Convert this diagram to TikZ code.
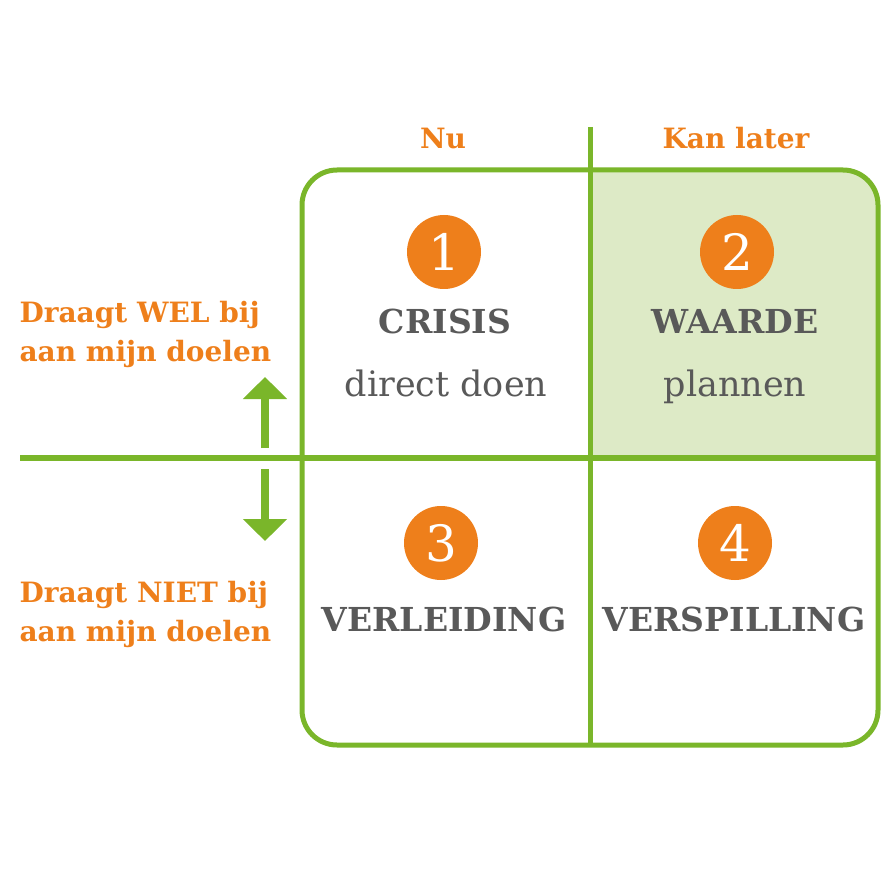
\documentclass[tikz,border=0pt]{standalone}
\usepackage{fontspec}
\setmainfont{DejaVu Serif}
\usetikzlibrary{arrows.meta}
\definecolor{oranje}{HTML}{EE7F1B}
\definecolor{groen}{HTML}{7AB62A}
\definecolor{lichtgroen}{HTML}{DDEAC6}
\definecolor{grijs}{HTML}{595959}
\begin{document}
\begin{tikzpicture}[x=1pt,y=-1pt,
    kop/.style={text=oranje,font=\bfseries\fontsize{28}{39}\selectfont},
    nummer/.style={circle,fill=oranje,text=white,minimum size=74pt,inner sep=0pt,font=\fontsize{50}{50}\selectfont},
    titel/.style={text=grijs,anchor=base,font=\bfseries\fontsize{33}{38}\selectfont},
    sub/.style={text=grijs,anchor=base,font=\fontsize{35}{40}\selectfont},
    lijn/.style={groen,line width=5pt},
    pijl/.style={groen,line width=8pt,-{Triangle[width=43pt,length=22pt]}}]
  \useasboundingbox (0,0) rectangle (888,882);
  % kwadrant 2 licht groen
  \begin{scope}
    \clip[rounded corners=35pt] (302,170) rectangle (878,745);
    \fill[lichtgroen] (590,170) rectangle (878,458);
  \end{scope}
  \draw[lijn,rounded corners=35pt] (302,170) rectangle (878,745);
  \draw[lijn] (590,127) -- (590,745);
  \draw[lijn,line width=6pt] (20,458) -- (878,458);
  % koppen
  \node[kop] (nu) at (443,138) {Nu};
  \node[kop] (later) at (736,138) {Kan later};
  \node[kop,align=left,anchor=west] (wel) at (16,334) {Draagt WEL bij\\aan mijn doelen};
  \node[kop,align=left,anchor=west] (niet) at (16,614) {Draagt NIET bij\\aan mijn doelen};
  % pijlen
  \coordinate (op0) at (265,448);
  \coordinate (op1) at (265,377);
  \coordinate (neer0) at (265,469);
  \coordinate (neer1) at (265,541);
  \draw[pijl] (op0) -- (op1);
  \draw[pijl] (neer0) -- (neer1);
  % kwadranten
  \node[nummer] (n1) at (444,252) {1};
  \node[nummer] (n2) at (737,252) {2};
  \node[nummer] (n3) at (441,543) {3};
  \node[nummer] (n4) at (735,543) {4};
  \node[titel] (crisis) at (445,334) {CRISIS};
  \node[sub] (doen) at (446,396) {direct doen};
  \node[titel] (waarde) at (735,334) {WAARDE};
  \node[sub] (plannen) at (735,396) {plannen};
  \node[titel] (verleiding) at (444,631) {VERLEIDING};
  \node[titel] (verspilling) at (734,631) {VERSPILLING};
\end{tikzpicture}
\end{document}
